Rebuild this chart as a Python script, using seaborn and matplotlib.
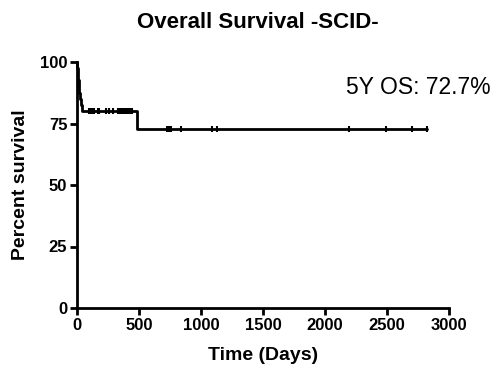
import numpy as np
import pandas as pd
import matplotlib
matplotlib.use("Agg")
import matplotlib.pyplot as plt
import seaborn as sns

# Patient follow-up (days) and status (1 = death, 0 = censored)
death_times = [2, 5, 9, 13, 18, 24, 30, 38, 480]
censor_times = [100, 110, 130, 140, 170, 180, 230, 255, 260, 290, 330,
                350, 365, 375, 385, 395, 405, 415, 425, 435, 445,
                726, 745, 758, 839, 1089, 1129, 2194, 2492, 2700, 2823]
x_ticks = [0, 500, 1000, 1500, 2000, 2500, 3000]
y_ticks = [0, 25, 50, 75, 100]
title = "Overall Survival -SCID-"
annotation = "5Y OS: 72.7%"

times = np.array(death_times + censor_times, dtype=float)
events = np.array([1] * len(death_times) + [0] * len(censor_times))
order = np.lexsort((-events, times))
times, events = times[order], events[order]

# Kaplan-Meier estimate
n = len(times)
surv = 1.0
km_t, km_s = [0.0], [100.0]
cens_t, cens_s = [], []
at_risk = n
for t, e in zip(times, events):
    if e == 1:
        surv *= (at_risk - 1) / at_risk
        km_t.append(t); km_s.append(surv * 100)
    else:
        cens_t.append(t); cens_s.append(surv * 100)
    at_risk -= 1
km_t.append(max(times)); km_s.append(surv * 100)

curve = pd.DataFrame({"time": km_t, "survival": km_s})
cens = pd.DataFrame({"time": cens_t, "survival": cens_s})

sns.set_style("ticks")
plt.rcParams["font.family"] = ["Liberation Sans", "DejaVu Sans"]
for key in ["text.color", "axes.labelcolor", "xtick.color", "ytick.color",
            "axes.edgecolor"]:
    plt.rcParams[key] = "black"

fig = plt.figure(figsize=(4.95, 3.7), dpi=100)
ax = fig.add_axes([77 / 495, 1 - 308 / 370, (449 - 77) / 495, (308 - 62) / 370])

sns.lineplot(data=curve, x="time", y="survival", drawstyle="steps-post",
             color="black", linewidth=2, ax=ax, clip_on=False)
sns.scatterplot(data=cens, x="time", y="survival", marker="|", s=25,
                color="black", linewidth=1.5, ax=ax, clip_on=False, zorder=3)

ax.set_xlim(0, 3000)
ax.set_ylim(0, 100)
ax.set_xticks(x_ticks)
ax.set_yticks(y_ticks)
ax.set_xticklabels([str(v) for v in x_ticks], fontsize=12, fontweight="bold")
ax.set_yticklabels([str(v) for v in y_ticks], fontsize=12, fontweight="bold")
ax.tick_params(axis="both", direction="out", length=5, width=2, pad=2)
for s in ["left", "bottom"]:
    ax.spines[s].set_linewidth(2)
sns.despine(ax=ax)

ax.set_xlabel("Time (Days)", fontsize=14, fontweight="bold", labelpad=10)
ax.set_ylabel("Percent survival", fontsize=14, fontweight="bold", labelpad=8)
fig.text(0.52, 1 - 22 / 370, title, ha="center", va="center",
         fontsize=16, fontweight="bold")
fig.text(491 / 495, 1 - 88 / 370, annotation, ha="right", va="center",
         fontsize=16.5)

fig.savefig("out.png", dpi=100)
